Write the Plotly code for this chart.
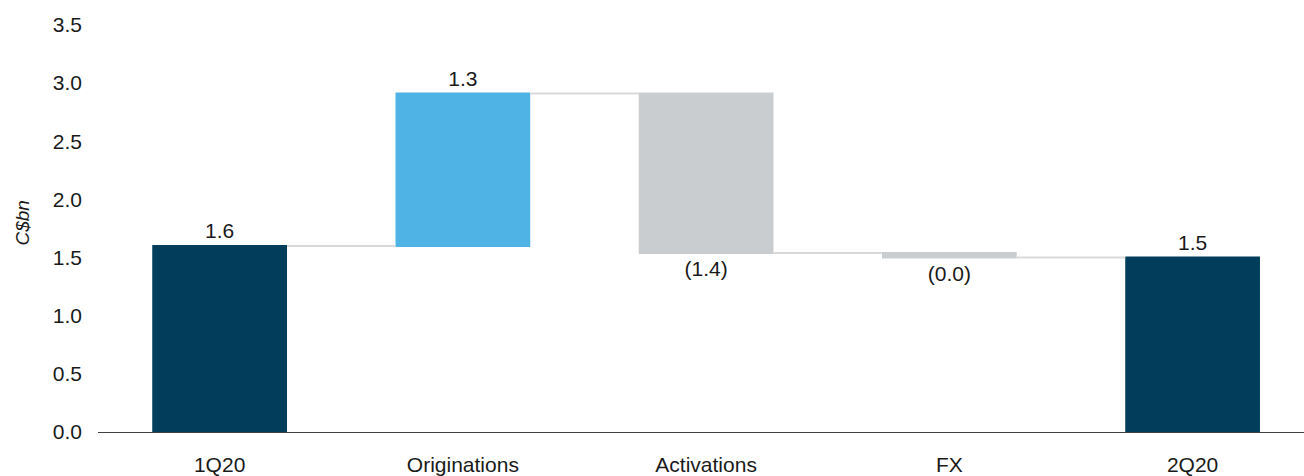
import plotly.graph_objects as go

# Waterfall: loans bridge from 1Q20 to 2Q20 (C$bn)
categories = ["1Q20", "Originations", "Activations", "FX", "2Q20"]
values = [1.60, 1.31, -1.37, -0.04, 1.50]
measures = ["absolute", "relative", "relative", "relative", "total"]


def fmt(v):
    s = f"{abs(v):.1f}"
    return f"({s})" if v < 0 else s


labels = [fmt(v) for v in values]

NAVY = "#023E5C"
BLUE = "#4FB3E6"
GREY = "#CACDD0"
FONT = "Liberation Sans, Arial, sans-serif"
FS = 21

fig = go.Figure(
    go.Waterfall(
        x=categories,
        y=values,
        measure=measures,
        text=labels,
        textposition="outside",
        textfont=dict(family=FONT, size=FS, color="#1a1a1a"),
        cliponaxis=False,
        increasing=dict(marker=dict(color=BLUE, line=dict(width=0))),
        decreasing=dict(marker=dict(color=GREY, line=dict(width=0))),
        totals=dict(marker=dict(color=NAVY, line=dict(width=0))),
        connector=dict(mode="between", line=dict(color="#D9D9D9", width=2)),
        hoverinfo="skip",
    )
)

fig.update_layout(
    width=1304,
    height=476,
    margin=dict(l=98, r=0, t=25, b=41),
    paper_bgcolor="white",
    plot_bgcolor="white",
    showlegend=False,
    waterfallgap=0.446,
    font=dict(family=FONT, size=FS, color="#1a1a1a"),
    xaxis=dict(
        range=[-0.5, 4.458],
        showgrid=False,
        zeroline=False,
        showline=True,
        linecolor="#404040",
        linewidth=1.2,
        ticks="",
        ticklabelstandoff=14,
        tickfont=dict(family=FONT, size=FS, color="#1a1a1a"),
    ),
    yaxis=dict(
        range=[0, 3.5],
        tickvals=[0, 0.5, 1.0, 1.5, 2.0, 2.5, 3.0, 3.5],
        tickformat=".1f",
        showgrid=False,
        zeroline=False,
        showline=False,
        ticks="",
        ticklabelstandoff=15,
        tickfont=dict(family=FONT, size=FS, color="#1a1a1a"),
    ),
    annotations=[
        dict(
            text="<i>C$bn</i>",
            xref="paper",
            yref="paper",
            x=-98 / 1206 + 23 / 1206,
            y=(435 - 224) / 410,
            xanchor="center",
            yanchor="middle",
            textangle=-90,
            showarrow=False,
            font=dict(family=FONT, size=19, color="#1a1a1a"),
        )
    ],
)

fig.write_html("out.html")
